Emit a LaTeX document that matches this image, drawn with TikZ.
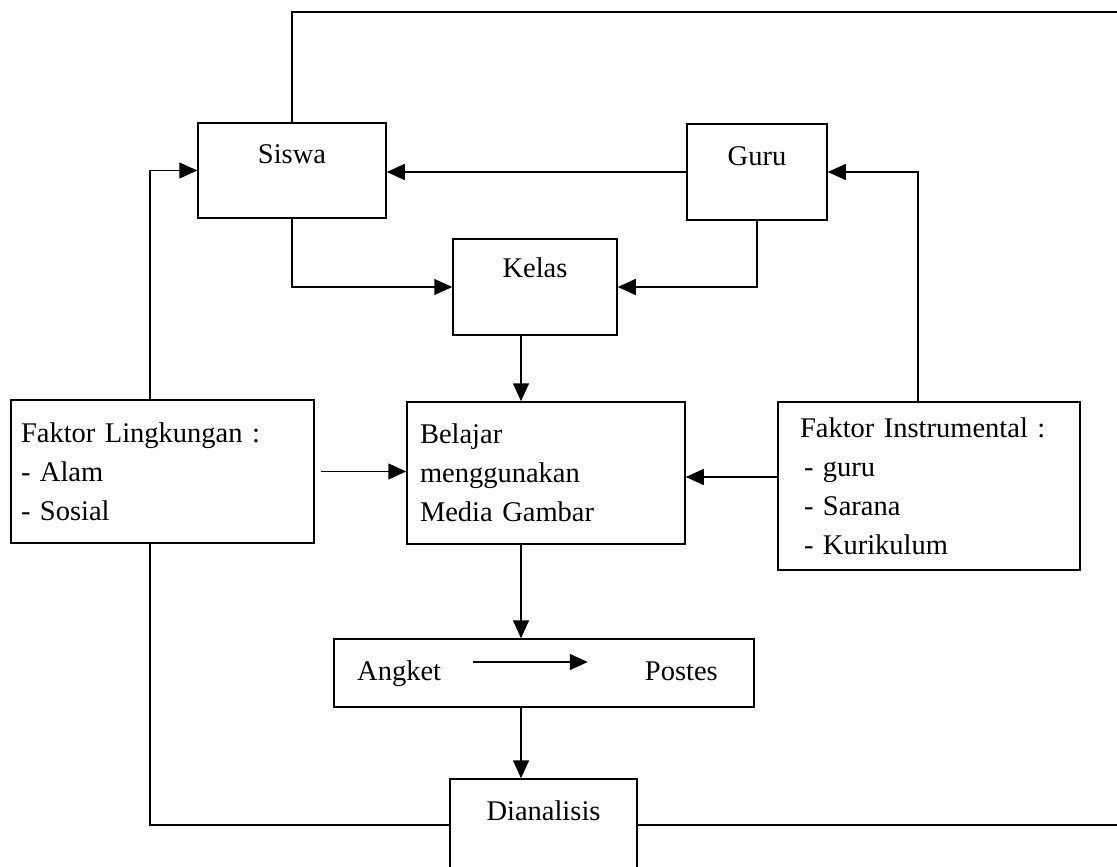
\documentclass[tikz,border=0pt]{standalone}
\usepackage{fontspec}
\setmainfont{Liberation Serif}
\usetikzlibrary{arrows.meta}
\begin{document}
\begin{tikzpicture}[x=1pt,y=-1pt,
  every node/.style={font=\fontsize{28.5}{39}\selectfont},
  box/.style={draw, line width=1.5pt, rectangle, inner sep=0pt},
  mbox/.style={box, align=left, inner ysep=0pt},
  txt/.style={inner sep=0pt},
  ln/.style={line width=1.5pt},
  arr/.style={line width=1.5pt, -{Triangle[length=18pt,width=16pt]}}]
\useasboundingbox (0,0) rectangle (1117,867);
% boxes
\node[box, minimum width=188pt, text height=40pt, text depth=55pt] (siswa) at (292,170.5) {Siswa};
\node[box, minimum width=140pt, text height=41pt, text depth=55pt] (guru) at (757,172) {Guru};
\node[box, minimum width=164pt, text height=38pt, text depth=58pt] (kelas) at (535,287) {Kelas};
\node[mbox, text width=283pt, inner xsep=10pt, minimum height=143pt] (fl) at (162.5,471.5)
  {Faktor Lingkungan :\\- Alam\\- Sosial};
\node[mbox, text width=252pt, inner xsep=13pt, minimum height=142pt] (belajar) at (546,473)
  {Belajar\\menggunakan\\Media Gambar};
\node[mbox, text width=258pt, inner xsep=22pt, minimum height=168pt] (fi) at (929,486)
  {Faktor Instrumental :\\\hspace*{4pt}- guru\\\hspace*{4pt}- Sarana\\\hspace*{4pt}- Kurikulum};
\node[box, minimum width=420pt, minimum height=68pt] (ap) at (544,673) {};
\node[txt, anchor=base west] (angket) at (357,680) {Angket};
\node[txt, anchor=base east] (postes) at (718,680) {Postes};
\node[box, minimum width=187pt, text height=41pt, text depth=51pt] (dian) at (543.5,825) {Dianalisis};
% helper coordinates
\coordinate (tr) at (1125,12);
\coordinate (br) at (1125,827);
\coordinate (lx) at (150,0);
\coordinate (sp) at (521,0);
\coordinate (fx) at (918,0);
% connectors
\draw[ln] (siswa.north) |- (tr);
\draw[arr] (guru.west) -- (guru.west -| siswa.east);
\draw[arr] (fl.north -| lx) |- (siswa.west);
\draw[arr] (siswa.south) |- (kelas.west);
\draw[arr] (guru.south) |- (kelas.east);
\draw[arr] (fi.north -| fx) |- (guru.east);
\draw[arr] (kelas.south -| sp) -- (belajar.north -| sp);
\draw[arr, shorten <=6pt] (fl.east) -- (fl.east -| belajar.west);
\draw[arr] ([yshift=9pt]fi.west) -- ([yshift=9pt]fi.west -| belajar.east);
\draw[arr] (belajar.south -| sp) -- (ap.north -| sp);
\draw[arr, shorten <=32pt, shorten >=57pt] ([yshift=18pt]angket.base east) -- ([yshift=18pt]postes.base west);
\draw[arr] (ap.south -| sp) -- (dian.north -| sp);
\draw[ln] (fl.south -| lx) |- (dian.west);
\draw[ln] (dian.east) -- (dian.east -| br);
\end{tikzpicture}
\end{document}
